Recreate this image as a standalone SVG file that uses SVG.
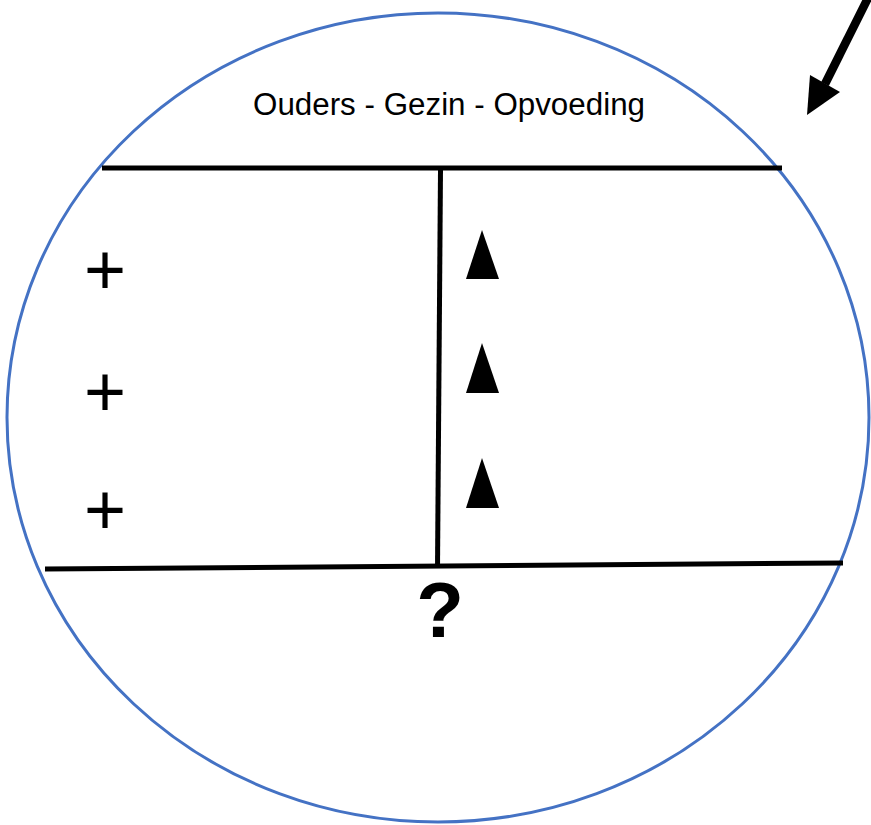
<svg xmlns="http://www.w3.org/2000/svg" width="871" height="825" viewBox="0 0 871 825">
<style>
.ln{stroke:#000;stroke-width:5;fill:none;stroke-linecap:butt}
.ttl{font-family:"Liberation Sans",Arial,sans-serif;font-size:31px;fill:#000}
.plus{font-family:"Liberation Sans",Arial,sans-serif;font-size:72px;fill:#000;text-anchor:middle}
.q{font-family:"Liberation Sans",Arial,sans-serif;font-size:78px;font-weight:bold;fill:#000;text-anchor:middle}
.tri{fill:#000}
</style>
<rect width="871" height="825" fill="#fff"/>
<g id="circle">
<ellipse cx="438" cy="417.5" rx="431" ry="404.5" fill="none" stroke="#4472C4" stroke-width="3"/>
</g>
<g id="title">
<text class="ttl" x="253" y="115" textLength="392" lengthAdjust="spacingAndGlyphs">Ouders - Gezin - Opvoeding</text>
</g>
<g id="connectors">
<line class="ln" x1="102" y1="168" x2="782" y2="168"/>
<line class="ln" x1="440.5" y1="170" x2="437.5" y2="568"/>
<line class="ln" x1="45" y1="569" x2="843" y2="563"/>
<line x1="868" y1="-2" x2="825" y2="84" stroke="#000" stroke-width="8.5"/>
<polygon points="807,115 810,75 840,92" fill="#000"/>
</g>
<g id="plus-column">
<text class="plus" x="105" y="294">+</text>
<text class="plus" x="105" y="416">+</text>
<text class="plus" x="105" y="534">+</text>
</g>
<g id="triangle-column">
<polygon class="tri" points="482,230 499,279 466,279"/>
<polygon class="tri" points="482,343 499,393 466,393"/>
<polygon class="tri" points="482,458 499,508 466,508"/>
</g>
<g id="question">
<text class="q" x="440" y="637">?</text>
</g>
</svg>
